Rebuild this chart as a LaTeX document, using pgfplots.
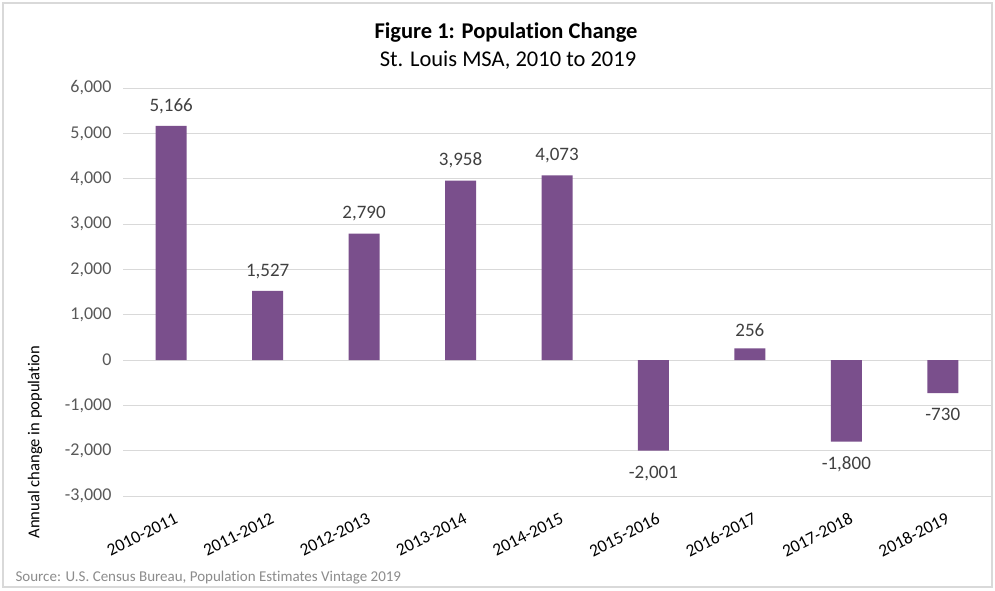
\documentclass[border=0pt]{standalone}
\usepackage{pgfplots}
\pgfplotsset{compat=1.18}
\usepackage{fontspec}
\setmainfont{Carlito}[Ligatures={NoCommon}]
\definecolor{barpurple}{HTML}{7A4F8C}
\definecolor{gridgray}{HTML}{D9D9D9}
\definecolor{ticktext}{HTML}{595959}
\definecolor{labeltext}{HTML}{404040}
\definecolor{srcgray}{HTML}{8C8C8C}
\begin{document}
\begin{tikzpicture}[x=1pt,y=1pt]
\useasboundingbox (0,0) rectangle (995,590);
\fill[white] (0,0) rectangle (995,590);
\draw[gridgray, line width=1.2pt] (3,3) rectangle (992,587);
\node[font=\bfseries\fontsize{22.5}{26}\selectfont, text=black] at (506,557) {Figure 1: Population Change};
\node[font=\fontsize{22.5}{26}\selectfont, text=black] at (508,530) {St. Louis MSA, 2010 to 2019};
\node[font=\fontsize{16.6}{20}\selectfont, text=black, rotate=90] at (35,148) {Annual change in population};
\node[font=\fontsize{15}{18}\selectfont, text=srcgray, anchor=west] at (12,12) {Source: U.S. Census Bureau, Population Estimates Vintage 2019};
\begin{axis}[
  at={(123pt,94pt)}, anchor=south west,
  scale only axis, width=868pt, height=408pt,
  ybar, bar width=31pt,
  ymin=-3000, ymax=6000, ytick={-3000,-2000,...,6000},
  xmin=-0.5, xmax=8.5, xtick={0,...,8},
  xticklabels={2010-2011,2011-2012,2012-2013,2013-2014,2014-2015,2015-2016,2016-2017,2017-2018,2018-2019},
  ymajorgrids, grid style={draw=gridgray, line width=1pt},
  axis line style={draw=none}, major tick length=0pt,
  /pgf/number format/assume math mode=true,
  /pgf/number format/.cd, 1000 sep={,}, /pgfplots/.cd,
  yticklabel style={font=\fontsize{18}{21}\selectfont, text=ticktext, xshift=-8pt},
  xticklabel style={font=\fontsize{17.5}{20}\selectfont, text=black, rotate=27, anchor=north east, inner sep=1pt, xshift=-4pt, yshift=-14pt},
  visualization depends on={y \as \rawy},
  nodes near coords,
  nodes near coords style={font=\fontsize{19}{22}\selectfont, text=labeltext, inner ysep=12pt, yshift={(\rawy<0)*(-3)},
    /pgf/number format/assume math mode=true, /pgf/number format/1000 sep={,}},
  clip=false,
]
\addplot[fill=barpurple, draw=none] coordinates {(0,5166) (1,1527) (2,2790) (3,3958) (4,4073) (5,-2001) (6,256) (7,-1800) (8,-730)};
\end{axis}
\end{tikzpicture}
\end{document}
